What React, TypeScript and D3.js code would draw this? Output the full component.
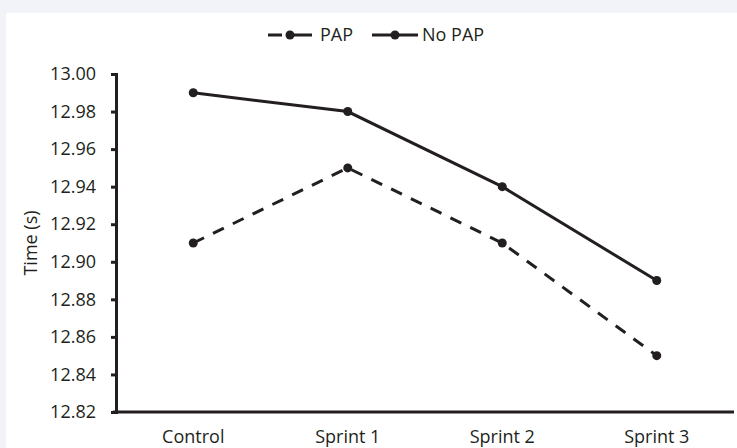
import React, { useEffect, useRef } from 'react';
import * as d3 from 'd3';

const CATEGORIES = ['Control', 'Sprint 1', 'Sprint 2', 'Sprint 3'];
const PAP = [12.91, 12.95, 12.91, 12.85];
const NO_PAP = [12.99, 12.98, 12.94, 12.89];
const Y_TICKS = [12.82, 12.84, 12.86, 12.88, 12.9, 12.92, 12.94, 12.96, 12.98, 13.0];

const WIDTH = 737;
const HEIGHT = 448;
const INK = '#231f20';
const FONT = '"Open Sans", sans-serif';
const FS = 18;

export default function App() {
  const ref = useRef<SVGSVGElement>(null);

  useEffect(() => {
    const svg = d3.select(ref.current);
    svg.selectAll('*').remove();

    svg.append('rect').attr('width', WIDTH).attr('height', HEIGHT).attr('fill', '#f2f3f8');
    svg.append('rect').attr('x', 6).attr('y', 13).attr('width', WIDTH - 6).attr('height', HEIGHT - 13).attr('fill', '#fff');

    const x = d3.scaleBand().domain(CATEGORIES).range([116, 734]);
    const y = d3.scaleLinear().domain([12.82, 13.0]).range([412, 74]);

    // y axis
    const yAxis = svg.append('g').attr('transform', 'translate(116,0)')
      .call(d3.axisLeft(y).tickValues(Y_TICKS).tickSize(5).tickPadding(15).tickFormat(d3.format('.2f')));
    yAxis.attr('font-size', FS).attr('font-family', FONT);
    yAxis.select('.domain').attr('stroke', INK).attr('stroke-width', 3);
    yAxis.selectAll('.tick line').attr('stroke', INK).attr('stroke-width', 3);
    yAxis.selectAll('.tick text').attr('fill', INK);

    // x axis
    const xAxis = svg.append('g').attr('transform', 'translate(0,412)')
      .call(d3.axisBottom(x).tickSize(0).tickPadding(18));
    xAxis.attr('font-size', FS).attr('font-family', FONT);
    xAxis.select('.domain').attr('stroke', INK).attr('stroke-width', 3)
      .attr('d', 'M113,0H734');
    xAxis.selectAll('.tick text').attr('fill', INK);

    svg.append('text')
      .attr('transform', `translate(37,${(74 + 412) / 2}) rotate(-90)`)
      .attr('text-anchor', 'middle')
      .attr('fill', INK).attr('font-size', FS).attr('font-family', FONT)
      .text('Time (s)');

    const line = d3.line<number>()
      .x((_, i) => (x(CATEGORIES[i]) ?? 0) + x.bandwidth() / 2)
      .y(d => y(d));

    const series = [
      { name: 'PAP', values: PAP, dash: '12,10' },
      { name: 'No PAP', values: NO_PAP, dash: null },
    ];

    series.forEach(s => {
      svg.append('path').datum(s.values)
        .attr('d', line)
        .attr('fill', 'none').attr('stroke', INK).attr('stroke-width', 3)
        .attr('stroke-dasharray', s.dash);
      svg.append('g').selectAll('circle').data(s.values).join('circle')
        .attr('cx', (_, i) => (x(CATEGORIES[i]) ?? 0) + x.bandwidth() / 2)
        .attr('cy', d => y(d))
        .attr('r', 4.5)
        .attr('fill', INK);
    });

    // legend
    const legend = svg.append('g').attr('transform', 'translate(0,35)');
    const items = [
      { name: 'PAP', x0: 268, x1: 312, dash: '14,4,30', gap: 8 },
      { name: 'No PAP', x0: 372, x1: 418, dash: null, gap: 4 },
    ];
    items.forEach(it => {
      legend.append('line').attr('x1', it.x0).attr('x2', it.x1)
        .attr('stroke', INK).attr('stroke-width', 3).attr('stroke-dasharray', it.dash);
      legend.append('circle').attr('cx', (it.x0 + it.x1) / 2).attr('r', 4.5).attr('fill', INK);
      legend.append('text').attr('x', it.x1 + it.gap).attr('dy', '0.35em')
        .attr('fill', INK).attr('font-size', FS).attr('font-family', FONT)
        .text(it.name);
    });
  }, []);

  return (
    <svg ref={ref} width={WIDTH} height={HEIGHT} style={{ position: 'absolute', left: 0, top: 0 }} />
  );
}
